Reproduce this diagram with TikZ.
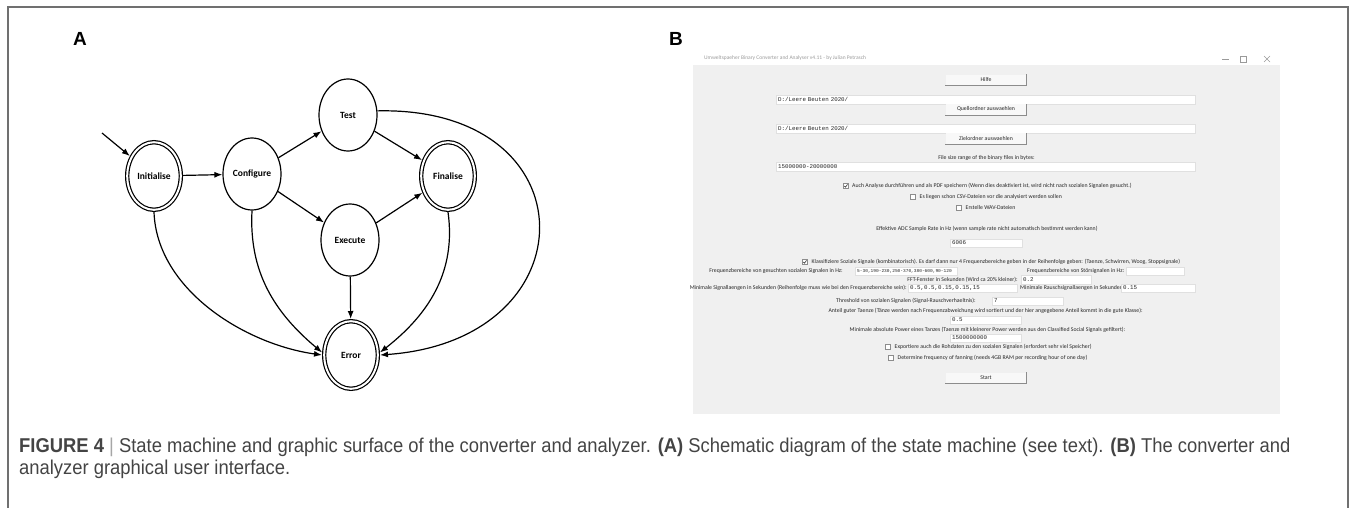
\documentclass[tikz,border=0pt]{standalone}
\usepackage{fontspec}
\setmainfont{Liberation Sans}
\newfontfamily\capfont[FakeStretch=0.92]{Liberation Sans}
\newfontfamily\statefont{Carlito}
\newfontfamily\guifont{Carlito}
\newfontfamily\guimono{Liberation Mono}
\usetikzlibrary{arrows.meta,positioning,shapes.geometric}

\definecolor{panelgray}{HTML}{F0F0F0}
\definecolor{capgray}{HTML}{444444}
\definecolor{framegray}{HTML}{707070}
\definecolor{btnedge}{HTML}{8C8C8C}
\definecolor{wingray}{HTML}{9A9A9A}

\begin{document}
\begin{tikzpicture}[
  x=1pt, y=-1pt,
  >={Latex[length=8pt,width=6pt]},
  state/.style={ellipse, draw, line width=1.2pt, minimum width=58pt, minimum height=72pt, inner sep=0pt,
    font=\statefont\bfseries\fontsize{9.5}{11}\selectfont},
  accept/.style={state, double, double distance=2pt, minimum width=53.6pt, minimum height=67.6pt, outer sep=2.2pt},
  trans/.style={->, line width=1.2pt},
  panellbl/.style={font=\bfseries\fontsize{19}{19}\selectfont, inner sep=0pt},
  caption/.style={font=\capfont\fontsize{20}{22}\selectfont, text=capgray, inner sep=0pt, anchor=base west},
  gui/.style={font=\guifont\fontsize{5.8}{6.5}\selectfont, inner sep=0pt, text=black!85},
  btn/.style={gui, fill=white!55!panelgray, minimum width=81pt, minimum height=11pt},
  entry/.style={gui, font=\guimono\fontsize{5.8}{6.5}\selectfont, fill=white, draw=black!12, line width=0.4pt,
    text width=#1, align=left, minimum height=8.5pt, inner xsep=2pt, anchor=west},
  chk/.style={draw=black!45, fill=white, line width=0.4pt, minimum size=5pt, inner sep=0pt},
  thin]

\useasboundingbox (0,0) rectangle (1354,507);
\draw[framegray, line width=1.4pt] (8,520) -- (8,7) -- (1348,7) -- (1348,520);

\node[panellbl] (labA) at (80,39) {A};
\node[panellbl] (labB) at (676,39) {B};

% state machine
\node[accept] (init) at (154,176) {Initialise};
\node[state]  (conf) at (252,174) {Configure};
\node[state]  (test) at (348,115) {Test};
\node[state]  (exec) at (350,240) {Execute};
\node[accept] (fin)  at (448,176) {Finalise};
\node[accept] (err)  at (351,355) {Error};
\coordinate (entry) at (102,133);

\draw[trans] (entry) -- (init);
\draw[trans] (init) -- (conf);
\draw[trans] (conf) -- (test);
\draw[trans] (conf) -- (exec);
\draw[trans] (test) -- (fin);
\draw[trans] (exec) -- (fin);
\draw[trans] (exec) -- (err);

\draw[trans] (init.south) to[out=-88, in=172, looseness=0.9] (err.west);
\draw[trans] (conf.south) to[out=-93, in=140] (err.175);
\draw[trans] (fin.south) to[out=-82, in=38] (err.5);
\draw[trans] (test.8) .. controls (592,106) and (592,340) .. (err.east);

% GUI screenshot
\node[gui, anchor=west, text=wingray, font=\guifont\fontsize{5.5}{6}\selectfont] (tWin) at (704,58.5)
  {Umweltspaeher Binary Converter and Analyser v4.11 - by Julian Petrasch};
\draw[wingray, line width=0.5pt] (1222,59) -- (1229,59);
\draw[wingray, line width=0.5pt] (1240,56) rectangle (1246,62);
\draw[wingray, line width=0.5pt] (1264,56) -- (1270,62) (1264,62) -- (1270,56);

\fill[panelgray] (693,65) rectangle (1280,414);

\node[btn] (bHilfe) at (986,80) {Hilfe};
\node[entry=415pt] (eQuelle) at (776,99.5) {D:/Leere Beuten 2020/};
\node[btn] (bQuelle) at (986,109.3) {Quellordner auswaehlen};
\node[entry=415pt] (eZiel) at (776,128.5) {D:/Leere Beuten 2020/};
\node[btn] (bZiel) at (986,138.8) {Zielordner auswaehlen};
\node[gui] (lSize) at (986.5,157.7) {File size range of the binary files in bytes:};
\node[entry=415pt] (eSize) at (776,166.7) {15000000-20000000};

\node[chk] (cAnalyse) at (846,186) {};
\node[gui, anchor=west] (lAnalyse) at (852,186)
  {Auch Analyse durchführen und als PDF speichern (Wenn dies deaktiviert ist, wird nicht nach sozialen Signalen gesucht.)};
\node[chk] (cCsv) at (913,196.7) {};
\node[gui, anchor=west] (lCsv) at (919.5,196.7) {Es liegen schon CSV-Dateien vor die analysiert werden sollen};
\node[chk] (cWav) at (959,207.3) {};
\node[gui, anchor=west] (lWav) at (965.5,207.3) {Erstelle WAV-Dateien};

\node[gui] (lRate) at (987,229)
  {Effektive ADC Sample Rate in Hz (wenn sample rate nicht automatisch bestimmt werden kann)};
\node[entry=68pt] (eRate) at (950,243) {6006};

\node[chk] (cKlass) at (805,262) {};
\node[gui, anchor=west] (lKlass) at (811.5,262)
  {Klassifiziere Soziale Signale (kombinatorisch). Es darf dann nur 4 Frequenzbereiche geben in der Reihenfolge geben: (Taenze, Schwirren, Woog, Stoppsignale)};

\node[gui, anchor=east] (lFreq) at (843,271) {Frequenzbereiche von gesuchten sozialen Signalen in Hz:};
\node[entry=98pt, font=\guimono\fontsize{4.5}{5}\selectfont] (eFreq) at (855,271) {5-30,190-230,250-370,380-600,90-120};
\node[gui, anchor=west] (lStoer) at (1027,271) {Frequenzbereiche von Störsignalen in Hz:};
\node[entry=54pt] (eStoer) at (1126,271) {};

\node[gui, anchor=east] (lFft) at (1018,279.7) {FFT-Fenster in Sekunden (Wird ca 20\% kleiner):};
\node[entry=66pt] (eFft) at (1021,279.7) {0.2};

\node[gui, anchor=east] (lMinSig) at (907,288)
  {Minimale Signallaengen in Sekunden (Reihenfolge muss wie bei den Frequenzbereiche sein):};
\node[entry=105pt] (eMinSig) at (908,288) {0.5,0.5,0.15,0.15,15};
\node[gui, anchor=west] (lMinRausch) at (1020,288) {Minimale Rauschsignallaengen in Sekunden:};
\node[entry=70pt] (eMinRausch) at (1121,288) {0.15};

\node[gui, anchor=east] (lThresh) at (976,301) {Threshold von sozialen Signalen (Signal-Rauschverhaeltnis):};
\node[entry=67pt] (eThresh) at (992,301) {7};

\node[gui] (lAnteil) at (985.6,311)
  {Anteil guter Taenze (Tänze werden nach Frequenzabweichung wird sortiert und der hier angegebene Anteil kommt in die gute Klasse):};
\node[entry=67pt] (eAnteil) at (950,320) {0.5};

\node[gui] (lPower) at (987.5,329.7)
  {Minimale absolute Power eines Tanzes (Taenze mit kleinerer Power werden aus den Classified Social Signals gefiltert):};
\node[entry=67pt] (ePower) at (950,338) {1500000000};

\node[chk] (cExport) at (888,347) {};
\node[gui, anchor=west] (lExport) at (894.5,347)
  {Exportiere auch die Rohdaten zu den sozialen Signalen (erfordert sehr viel Speicher)};
\node[chk] (cFan) at (891,358) {};
\node[gui, anchor=west] (lFan) at (897.5,358)
  {Determine frequency of fanning (needs 4GB RAM per recording hour of one day)};

\node[btn] (bStart) at (986,378) {Start};

% Schatten der Knöpfe und Haken
\foreach \b in {bHilfe,bQuelle,bZiel,bStart}
  \draw[btnedge, line width=0.8pt] (\b.south west) -- (\b.south east) -- (\b.north east);
\foreach \c in {cAnalyse,cKlass}
  \draw[black!80, line width=0.6pt] ([shift={(-1.6,0)}]\c.center) -- ++(1.1,1.2) -- ++(2,-2.8);

% caption
\node[caption] (cap1) at (19,452) {{\bfseries FIGURE 4} {\color{black!35}|} State machine and graphic surface of the converter and analyzer. {\bfseries (A)} Schematic diagram of the state machine (see text). {\bfseries (B)} The converter and};
\node[caption] (cap2) at (19,474) {analyzer graphical user interface.};

\end{tikzpicture}
\end{document}
